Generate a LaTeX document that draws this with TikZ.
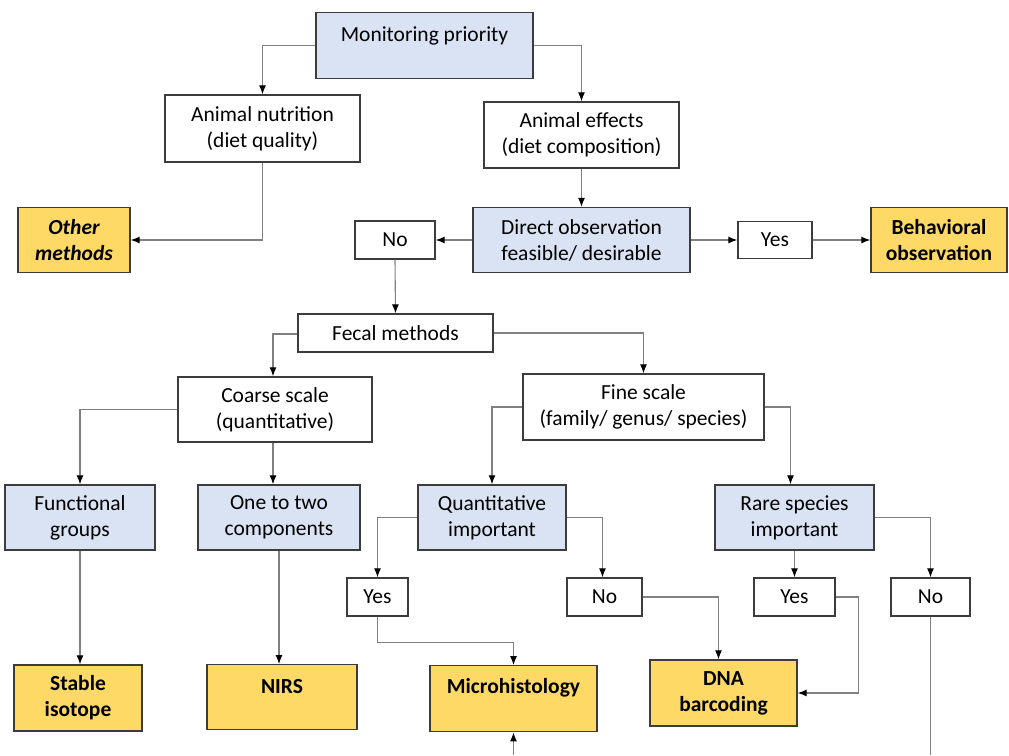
\documentclass[tikz,border=0pt]{standalone}
\usepackage{fontspec}
\setmainfont{Carlito}
\usetikzlibrary{arrows.meta}
\definecolor{flowBlue}{HTML}{DAE3F3}
\definecolor{flowGold}{HTML}{FFD966}
\definecolor{flowLine}{HTML}{808080}
\definecolor{flowEdge}{HTML}{3C3C3C}

\begin{document}
\begin{tikzpicture}[x=1pt,y=-1pt,font=\fontsize{21.5}{26}\selectfont,
  box/.style={draw=flowEdge,line width=1.4pt,fill=white,align=center,inner sep=0pt},
  ask/.style={box,fill=flowBlue},
  result/.style={box,fill=flowGold,font=\fontsize{21.5}{26}\selectfont\bfseries},
  link/.style={draw=flowLine,line width=1.1pt,-{Latex[length=9pt,width=7pt,color=black]}},
  plain/.style={draw=flowLine,line width=1.1pt}]
  \useasboundingbox (0,0) rectangle (1009,755);
  \node[ask,anchor=north,minimum width=217pt,text height=29pt,text depth=37pt] (mon) at (424.5,12) {Monitoring priority};
  \node[box,minimum width=195pt,minimum height=67pt] (nut) at (262.5,128.5) {Animal nutrition\\(diet quality)};
  \node[box,minimum width=195pt,minimum height=66pt] (eff) at (581.5,135) {Animal effects\\(diet composition)};
  \node[result,minimum width=112pt,minimum height=65pt,font=\fontsize{21.5}{26}\selectfont\bfseries\itshape] (oth) at (74,240) {Other\\methods};
  \node[box,minimum width=80pt,minimum height=38pt] (no0) at (395,240) {No};
  \node[ask,minimum width=217pt,minimum height=65pt] (dir) at (581.5,240) {Direct observation\\feasible/ desirable};
  \node[box,minimum width=74pt,minimum height=37pt] (yes0) at (775,240) {Yes};
  \node[result,minimum width=136pt,minimum height=65pt] (beh) at (939,240) {Behavioral\\observation};
  \node[box,minimum width=195pt,minimum height=38pt] (fec) at (395.5,333) {Fecal methods};
  \node[box,minimum width=194pt,minimum height=65pt] (coa) at (275,409.5) {Coarse scale\\(quantitative)};
  \node[box,minimum width=241pt,minimum height=66pt] (fin) at (643.5,407) {Fine scale\\(family/ genus/ species)};
  \node[ask,minimum width=150pt,minimum height=65pt] (fun) at (80,517.5) {Functional\\groups};
  \node[ask,minimum width=162pt,minimum height=65pt] (one) at (279,517.5) {One to two\\components};
  \node[ask,minimum width=148pt,minimum height=65pt] (qua) at (492,517.5) {Quantitative\\important};
  \node[ask,minimum width=159pt,minimum height=65pt] (rar) at (794.5,517.5) {Rare species\\important};
  \node[box,minimum width=61pt,minimum height=38pt] (yes1) at (377.5,597) {Yes};
  \node[box,minimum width=75pt,minimum height=38pt] (no1) at (604.5,597) {No};
  \node[box,minimum width=81pt,minimum height=38pt] (yes2) at (794.5,597) {Yes};
  \node[box,minimum width=79pt,minimum height=38pt] (no2) at (930.5,597) {No};
  \node[result,minimum width=128pt,minimum height=66pt] (sta) at (78,698) {Stable\\isotope};
  \node[result,anchor=north,minimum width=150pt,text height=29pt,text depth=36pt] (nir) at (282,664) {NIRS};
  \node[result,anchor=north,minimum width=167pt,text height=28pt,text depth=38pt] (mic) at (513.5,665) {Microhistology};
  \node[result,minimum width=147pt,minimum height=66pt] (dna) at (723.5,693) {DNA\\barcoding};
  \coordinate (endq) at (513.5,755);
  \coordinate (endr) at (930.5,755);
  \draw[link] (mon.west) -| (nut.north);
  \draw[link] (mon.east) -| (eff.north);
  \draw[link] (nut.south) |- (oth.east);
  \draw[link] (eff.south) -- (dir.north);
  \draw[link] (dir.west) -- (no0.east);
  \draw[link] (dir.east) -- (yes0.west);
  \draw[link] (yes0.east) -- (beh.west);
  \draw[link] (no0.south) -- (fec.north);
  \draw[link] ([yshift=-1pt]fec.west) -| ([xshift=-2pt]coa.north);
  \draw[link] (fec.east) -| (fin.north);
  \draw[link] (coa.west) -| (fun.north);
  \draw[link] ([xshift=-2pt]coa.south) -- ([xshift=-2pt]coa.south |- one.north);
  \draw[link] (fin.west) -| (qua.north);
  \draw[link] (fin.east) -| ([xshift=-4pt]rar.north);
  \draw[link] (fun.south) -- (fun.south |- sta.north);
  \draw[link] (one.south) -- (one.south |- nir.north);
  \draw[link] (qua.west) -| (yes1.north);
  \draw[link] (qua.east) -| ([xshift=-2pt]no1.north);
  \draw[link] (rar.south) -- (yes2.north);
  \draw[link] (rar.east) -| (no2.north);
  \draw[link] (yes1.south) -- ++(0,26) -| (mic.north);
  \draw[link] (no1.east) -| ([xshift=-5pt]dna.north);
  \draw[link] (yes2.east) -- ++(23,0) |- (dna.east);
  \draw[plain] (no2.south) -- (endr);
  \draw[link] (endq) -- (mic.south);
\end{tikzpicture}
\end{document}
